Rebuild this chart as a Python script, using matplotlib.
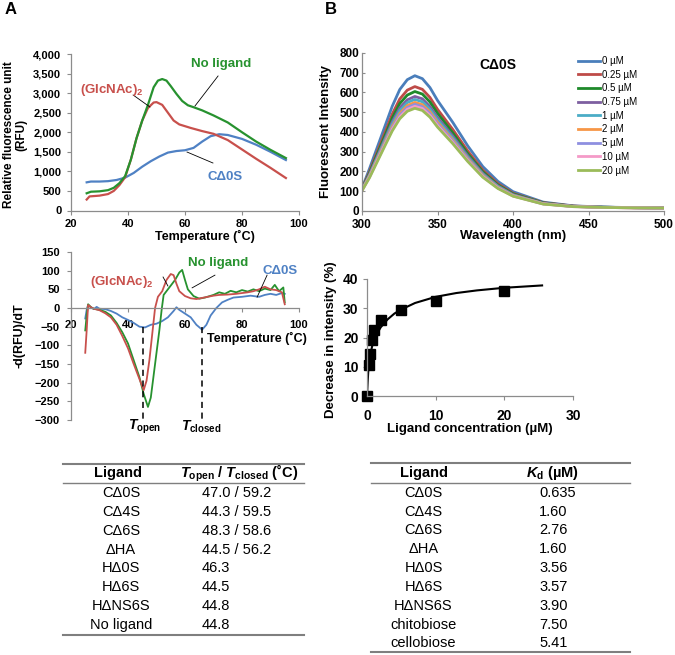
import numpy as np
import matplotlib
matplotlib.use("Agg")
import matplotlib.pyplot as plt
from matplotlib.lines import Line2D
from matplotlib.ticker import FuncFormatter

plt.rcParams['font.family'] = ['Liberation Sans', 'DejaVu Sans']
plt.rcParams['mathtext.fontset'] = 'custom'
plt.rcParams['mathtext.rm'] = 'Liberation Sans:bold'
plt.rcParams['mathtext.it'] = 'Liberation Sans:bold:italic'
plt.rcParams['mathtext.bf'] = 'Liberation Sans:bold'

# ---- panel A, melt curves (RFU) ----
t_green = [25.5, 27, 30, 33, 35, 37, 39, 41, 43, 45, 47, 49, 50.5, 52, 53.5, 55, 57, 59, 61, 63, 66, 70, 75, 80, 85, 90, 95.4]
rfu_green = [440, 480, 490, 520, 580, 700, 880, 1300, 1850, 2300, 2700, 3150, 3320, 3360, 3320, 3180, 2980, 2800, 2690, 2640, 2560, 2430, 2250, 2000, 1760, 1550, 1340]
t_red = [25.5, 26.5, 30, 33, 35, 37, 39, 41, 43, 45, 47, 49, 50, 52, 54, 56, 58, 62, 66, 70, 75, 80, 85, 90, 95.4]
rfu_red = [280, 360, 380, 420, 500, 650, 850, 1300, 1850, 2300, 2620, 2760, 2770, 2700, 2500, 2300, 2200, 2110, 2030, 1960, 1800, 1560, 1320, 1090, 830]
t_blue = [25.5, 27, 30, 33, 36, 39, 42, 45, 48, 51, 54, 57, 60, 63, 66, 69, 72, 75, 80, 85, 90, 95.4]
rfu_blue = [720, 740, 740, 750, 780, 840, 960, 1120, 1260, 1380, 1480, 1520, 1540, 1600, 1760, 1900, 1950, 1930, 1830, 1680, 1500, 1290]

# ---- panel A, derivative curves ----
dt_red = [25, 25.5, 26, 27, 28, 30, 32, 34, 36, 38, 40, 42, 44, 45.5, 46.5, 47.5, 48.5, 49.5, 50.5, 52, 53.5, 55, 56, 57, 58, 60, 62, 64, 66, 68, 70, 72, 75, 78, 80, 82, 84, 86, 88, 90, 92, 94, 95]
dv_red = [-120, -60, 8, 2, -2, -6, -14, -25, -45, -75, -108, -150, -190, -220, -195, -140, -70, 0, 30, 45, 75, 91, 88, 65, 45, 32, 26, 24, 27, 30, 33, 35, 36, 38, 40, 42, 45, 50, 57, 50, 48, 42, 10]
dt_green = [25, 25.5, 26, 27, 28, 30, 32, 34, 36, 38, 40, 42, 44, 45.5, 47, 48, 49, 50, 51, 51.8, 52.5, 53.5, 55, 56.5, 58, 59, 60, 61, 63, 65, 67, 70, 72, 74, 76, 78, 80, 82, 84, 86, 88, 90, 91.5, 93, 94.5, 95]
dv_green = [-60, -20, 10, 2, -2, -5, -10, -20, -40, -65, -95, -140, -185, -230, -265, -240, -180, -120, -60, -5, 35, 45, 60, 75, 95, 102, 75, 50, 32, 25, 28, 35, 42, 38, 46, 42, 48, 44, 50, 45, 52, 48, 62, 45, 55, 15]
dt_blue = [25, 25.5, 26, 27, 28, 29, 30, 32, 34, 36, 38, 40, 42, 44, 46, 48, 50, 52, 54, 56, 57, 58, 60, 62, 64, 66, 67.5, 69, 71, 73, 75, 77, 80, 83, 86, 88, 90, 92, 94, 95]
dv_blue = [-28, -5, 8, 2, -3, 3, -2, -3, -8, -15, -25, -32, -40, -50, -52, -45, -42, -35, -25, -8, 2, -5, -15, -25, -45, -58, -45, -20, 0, 15, 22, 28, 30, 33, 30, 35, 38, 35, 40, 38]
t_open = 45.3
t_closed = 66.0

# ---- panel B, emission spectra ----
wavelength = [300, 305, 310, 315, 320, 325, 330, 335, 340, 345, 350, 360, 370, 380, 390, 400, 420, 440, 460, 480, 500]
spec_labels = ['0 µM', '0.25 µM', '0.5 µM', '0.75 µM', '1 µM', '2 µM', '5 µM', '10 µM', '20 µM']
spec_colors = ['#4a7ebb', '#be4b48', '#1e8a2a', '#7d5fa0', '#4bacc6', '#f79646', '#8e8fe0', '#f49ac8', '#9bbb59']
spectra = [
    [115, 215, 320, 425, 530, 615, 665, 685, 670, 625, 560, 450, 330, 225, 150, 98, 45, 26, 20, 17, 16],
    [112, 200, 297, 393, 490, 567, 612, 630, 616, 575, 515, 414, 304, 207, 138, 90, 42, 25, 19, 17, 16],
    [110, 193, 286, 378, 470, 544, 587, 605, 592, 552, 495, 397, 291, 199, 132, 87, 41, 24, 19, 17, 16],
    [108, 186, 275, 363, 451, 522, 563, 580, 568, 529, 474, 381, 280, 191, 127, 83, 39, 24, 19, 17, 15],
    [107, 182, 268, 354, 440, 508, 549, 565, 553, 516, 462, 371, 272, 186, 124, 81, 38, 23, 19, 17, 15],
    [106, 178, 262, 345, 428, 494, 534, 550, 538, 502, 450, 361, 265, 181, 120, 79, 37, 23, 18, 16, 15],
    [105, 175, 257, 339, 420, 485, 524, 540, 528, 493, 441, 355, 260, 177, 118, 77, 36, 23, 18, 16, 15],
    [104, 172, 253, 333, 413, 476, 515, 530, 519, 484, 433, 348, 255, 174, 116, 76, 36, 22, 18, 16, 15],
    [103, 169, 248, 327, 405, 467, 505, 520, 509, 475, 425, 342, 251, 171, 114, 75, 35, 22, 18, 16, 15],
]

# ---- panel B, binding ----
conc = [0, 0.25, 0.5, 0.75, 1, 2, 5, 10, 20]
decrease = [0, 10.5, 14.5, 19, 22.5, 26, 29.5, 32.5, 36]
fit_x = [0, 0.1, 0.2, 0.35, 0.5, 0.75, 1, 1.5, 2, 3, 4, 5, 7, 10, 13, 16, 20, 25.5]
fit_y = [0, 5, 9, 12, 14.5, 17, 19, 21.5, 23.5, 26.2, 28.2, 29.6, 31.8, 33.9, 35.2, 36.1, 37.0, 37.8]

# ---- tables ----
tab_a_ligand = ['CΔ0S', 'CΔ4S', 'CΔ6S', 'ΔHA', 'HΔ0S', 'HΔ6S', 'HΔNS6S', 'No ligand']
tab_a_temp = ['47.0 / 59.2', '44.3 / 59.5', '48.3 / 58.6', '44.5 / 56.2', '46.3', '44.5', '44.8', '44.8']
tab_b_ligand = ['CΔ0S', 'CΔ4S', 'CΔ6S', 'ΔHA', 'HΔ0S', 'HΔ6S', 'HΔNS6S', 'chitobiose', 'cellobiose']
tab_b_kd = ['0.635', '1.60', '2.76', '1.60', '3.56', '3.57', '3.90', '7.50', '5.41']

GREEN = '#27922f'
RED = '#c8504c'
BLUE = '#4f81c4'
AXC = '#8c8c8c'

W, H = 675, 655
fig = plt.figure(figsize=(W / 100, H / 100), dpi=100)


def box(x0, y0, x1, y1):
    return [x0 / W, 1 - y1 / H, (x1 - x0) / W, (y1 - y0) / H]


def ftext(x, y, s, **kw):
    fig.text(x / W, 1 - y / H, s, **kw)


def fline(xs, ys, **kw):
    fig.add_artist(Line2D([x / W for x in xs], [1 - y / H for y in ys], **kw))


def style(ax, size, pad=3, length=3):
    for s in ['top', 'right']:
        ax.spines[s].set_visible(False)
    for s in ['left', 'bottom']:
        ax.spines[s].set_color(AXC)
        ax.spines[s].set_linewidth(0.9)
    ax.tick_params(colors=AXC, labelcolor='black', labelsize=size, length=length, width=0.8, pad=pad)
    for lab in ax.get_xticklabels() + ax.get_yticklabels():
        lab.set_fontweight('bold')


# ---------- A top ----------
ax1 = fig.add_axes(box(71, 54, 299, 210.5))
ax1.plot(t_blue, rfu_blue, color=BLUE, lw=1.6)
ax1.plot(t_red, rfu_red, color=RED, lw=1.6)
ax1.plot(t_green, rfu_green, color=GREEN, lw=1.6)
ax1.set_xlim(20, 100)
ax1.set_ylim(0, 4000)
ax1.set_xticks(range(20, 101, 20))
ax1.set_yticks(range(0, 4001, 500))
ax1.yaxis.set_major_formatter(FuncFormatter(lambda v, p: f'{int(v):,}'))
style(ax1, 8, pad=4)
ax1.tick_params(axis='x', pad=3)
ax1.text(72.8, 3745, 'No ligand', color=GREEN, fontsize=9.5, fontweight='bold', ha='center', va='center')
ax1.plot([71.6, 63.5], [3438, 2671], color='black', lw=0.6)
ax1.text(23.2, 3080, '(GlcNAc)$_{2}$', color=RED, fontsize=9.5, fontweight='bold', ha='left', va='center')
ax1.plot([41.8, 47.7], [2952, 2645], color='black', lw=0.6)
ax1.text(74, 856, 'CΔ0S', color=BLUE, fontsize=9.5, fontweight='bold', ha='center', va='center')
ax1.plot([60.7, 69.8], [1495, 1214], color='black', lw=0.6)
ftext(204.5, 236, 'Temperature (˚C)', fontsize=9, fontweight='bold', ha='center', va='center')
ftext(15, 135, 'Relative fluorescence unit\n(RFU)', fontsize=8.5, fontweight='bold', ha='center', va='center',
      rotation=90, linespacing=1.05)

# ---------- A middle ----------
ax2 = fig.add_axes(box(71, 252, 299, 420))
ax2.plot(dt_blue, dv_blue, color=BLUE, lw=1.3)
ax2.plot(dt_green, dv_green, color=GREEN, lw=1.3)
ax2.plot(dt_red, dv_red, color=RED, lw=1.3)
ax2.set_xlim(20, 100)
ax2.set_ylim(-300, 150)
ax2.set_xticks(range(20, 101, 20))
ax2.set_yticks(range(-300, 151, 50))
ax2.spines['bottom'].set_position(('data', 0))
style(ax2, 8, pad=5)
ax2.tick_params(axis='x', pad=5.5)
ax2.plot([t_open, t_open], [-52, -300], color='black', lw=1.1, ls=(0, (4, 3)), clip_on=False)
ax2.plot([t_closed, t_closed], [-52, -300], color='black', lw=1.1, ls=(0, (4, 3)), clip_on=False)
ax2.text(45.8, -319, '$T_{\\mathrm{open}}$', fontsize=10, ha='center', va='center', clip_on=False)
ax2.text(65.6, -319, '$T_{\\mathrm{closed}}$', fontsize=10, ha='center', va='center', clip_on=False)
ax2.text(71.6, 120, 'No ligand', color=GREEN, fontsize=9.5, fontweight='bold', ha='center', va='center')
ax2.plot([70.5, 62.5], [88, 54], color='black', lw=0.6)
ax2.text(26.7, 70, '(GlcNAc)$_{2}$', color=RED, fontsize=9.5, fontweight='bold', ha='left', va='center')
ax2.plot([52.3, 54], [83, 59], color='black', lw=0.6)
ax2.text(93.3, 99, 'CΔ0S', color=BLUE, fontsize=9.5, fontweight='bold', ha='center', va='center')
ax2.plot([88.8, 85.3], [88, 29], color='black', lw=0.6)
ftext(257, 338, 'Temperature (˚C)', fontsize=9, fontweight='bold', ha='center', va='center')
ftext(19, 336, '-d(RFU)/dT', fontsize=9, fontweight='bold', ha='center', va='center', rotation=90)

# ---------- B top ----------
ax3 = fig.add_axes(box(362, 53, 664, 211))
handles = []
for ys, lab, c in zip(spectra, spec_labels, spec_colors):
    h, = ax3.plot(wavelength, ys, color=c, lw=2.0, label=lab)
    handles.append(h)
ax3.set_xlim(300, 500)
ax3.set_ylim(0, 800)
ax3.set_xticks(range(300, 501, 50))
ax3.set_yticks(range(0, 801, 100))
style(ax3, 8.5, pad=3)
ax3.tick_params(axis='y', direction='in', length=2, pad=2)
ax3.text(0.45, 0.924, 'CΔ0S', transform=ax3.transAxes, fontsize=10, fontweight='bold', ha='center', va='center')
ax3.legend(handles=handles, loc='upper left', bbox_to_anchor=(578 / W, 1 - 56 / H), bbox_transform=fig.transFigure,
           frameon=False, fontsize=7, handlelength=2.3, handletextpad=0.15, labelspacing=0.38,
           borderaxespad=0, borderpad=0)
ftext(513, 236, 'Wavelength (nm)', fontsize=9.5, fontweight='bold', ha='center', va='center')
ftext(326, 132, 'Fluorescent Intensity', fontsize=9.5, fontweight='bold', ha='center', va='center', rotation=90)

# ---------- B binding ----------
ax4 = fig.add_axes(box(367, 279, 573, 396))
ax4.plot(fit_x, fit_y, color='black', lw=1.5)
ax4.plot(conc, decrease, ls='none', marker='s', ms=6.5, color='black', clip_on=False)
ax4.set_xlim(0, 30)
ax4.set_ylim(0, 40)
ax4.set_xticks(range(0, 31, 10))
ax4.set_yticks(range(0, 41, 10))
style(ax4, 10, pad=3)
ax4.tick_params(axis='x', pad=6)
ftext(470, 429, 'Ligand concentration (µM)', fontsize=9.5, fontweight='bold', ha='center', va='center')
ftext(331, 340, 'Decrease in intensity (%)', fontsize=9.5, fontweight='bold', ha='center', va='center', rotation=90)

# ---------- panel letters ----------
ftext(11, 10, 'A', fontsize=12, fontweight='bold', ha='center', va='center')
ftext(331, 9, 'B', fontsize=12, fontweight='bold', ha='center', va='center')

# ---------- tables ----------
TC = '#7f7f7f'
fline([63, 304], [464, 464], color=TC, lw=1.5)
fline([63, 304], [483, 483], color=TC, lw=1.0)
fline([63, 304], [635, 635], color=TC, lw=1.5)
ftext(118, 473, 'Ligand', fontsize=10.5, fontweight='bold', ha='center', va='center')
ftext(239.5, 473, '$T_{\\mathrm{open}}$ / $T_{\\mathrm{closed}}$ (˚C)', fontsize=10.5, fontweight='bold',
      ha='center', va='center')
for i, (lig, val) in enumerate(zip(tab_a_ligand, tab_a_temp)):
    y = 493.3 + i * 18.77
    ftext(121, y, lig, fontsize=10.5, ha='center', va='center')
    ftext(202, y, val, fontsize=10.5, ha='left', va='center')

fline([371, 630], [463, 463], color=TC, lw=1.5)
fline([371, 630], [483, 483], color=TC, lw=1.0)
fline([371, 630], [652, 652], color=TC, lw=1.5)
ftext(424, 473, 'Ligand', fontsize=10.5, fontweight='bold', ha='center', va='center')
ftext(552, 473, '$K_{\\mathrm{d}}$ (µM)', fontsize=10.5, fontweight='bold', ha='center', va='center')
for i, (lig, val) in enumerate(zip(tab_b_ligand, tab_b_kd)):
    y = 492.7 + i * 18.83
    ftext(423.5, y, lig, fontsize=10.5, ha='center', va='center')
    ftext(539, y, val, fontsize=10.5, ha='left', va='center')

fig.savefig('out.png', dpi=100)
